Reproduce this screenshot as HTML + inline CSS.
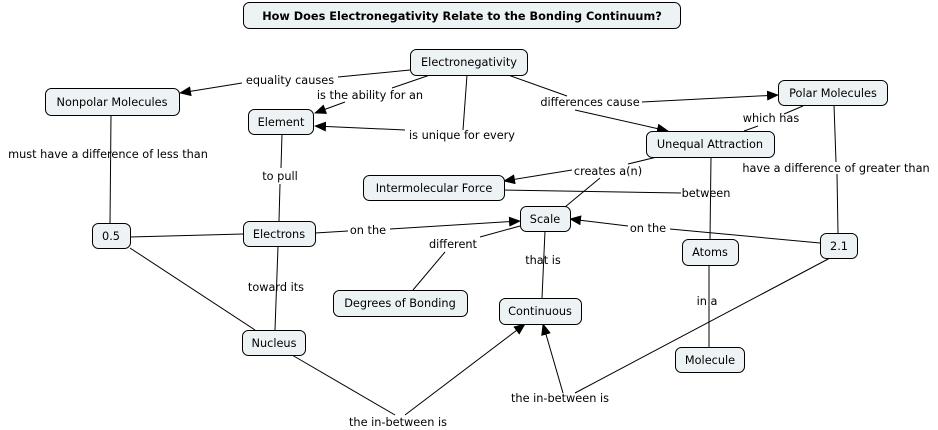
<!DOCTYPE html>
<html><head><meta charset="utf-8"><style>
html,body{margin:0;padding:0;background:#fff;}
svg{display:block;}
text{font-family:"DejaVu Sans","Liberation Sans",sans-serif;font-size:11.3px;fill:#000;}
.n{fill:#edf3f5;stroke:#000;stroke-width:1;}
.l{stroke:#000;stroke-width:1;fill:none;}
</style></head><body>
<svg width="938" height="430" viewBox="0 0 938 430" xmlns="http://www.w3.org/2000/svg">
<defs><marker id="a" markerWidth="12" markerHeight="10" refX="11" refY="5" orient="auto" markerUnits="userSpaceOnUse"><path d="M0,0 L12,5 L0,10 z" fill="#000"/></marker></defs>
<g class="l">
<line x1="410" y1="70" x2="338" y2="77"/><line x1="242" y1="83" x2="180" y2="93" marker-end="url(#a)"/>
<line x1="430" y1="75" x2="392" y2="88"/><line x1="345" y1="102" x2="315" y2="113" marker-end="url(#a)"/>
<line x1="467" y1="75" x2="463" y2="130"/><line x1="405" y1="130" x2="315" y2="126" marker-end="url(#a)"/>
<line x1="508" y1="75" x2="567" y2="96"/><line x1="642" y1="102" x2="778" y2="95" marker-end="url(#a)"/><line x1="575" y1="110" x2="668" y2="131" marker-end="url(#a)"/>
<line x1="803" y1="106" x2="784" y2="114"/><line x1="758" y1="126" x2="744" y2="131"/>
<line x1="834" y1="105" x2="836" y2="162"/><line x1="837" y1="174" x2="838" y2="233"/>
<line x1="111" y1="115" x2="110" y2="225"/>
<line x1="282" y1="134" x2="281" y2="168"/><line x1="280" y1="184" x2="279" y2="221"/>
<line x1="657" y1="157" x2="628" y2="164"/><line x1="572" y1="170" x2="504" y2="181" marker-end="url(#a)"/>
<line x1="600" y1="178" x2="565" y2="207"/>
<line x1="504" y1="190" x2="681" y2="193"/><line x1="711" y1="157" x2="710" y2="239"/>
<line x1="315" y1="233" x2="348" y2="231"/><line x1="390" y1="229" x2="520" y2="221" marker-end="url(#a)"/>
<line x1="130" y1="237" x2="243" y2="234"/>
<line x1="820" y1="243" x2="670" y2="229"/><line x1="628" y1="226" x2="570" y2="219" marker-end="url(#a)"/>
<line x1="413" y1="290" x2="445" y2="252"/><line x1="480" y1="237" x2="520" y2="226"/>
<line x1="545" y1="231" x2="542" y2="298"/>
<line x1="709" y1="265" x2="709" y2="347"/>
<line x1="278" y1="246" x2="275" y2="330"/>
<line x1="130" y1="248" x2="255" y2="330"/>
<line x1="292" y1="355" x2="395" y2="415"/><line x1="405" y1="415" x2="525" y2="324" marker-end="url(#a)"/>
<line x1="830" y1="258" x2="575" y2="393"/><line x1="563" y1="393" x2="543" y2="324" marker-end="url(#a)"/>
</g>
<g>
<rect class="n" x="243.5" y="2.5" width="437" height="26" rx="6"/>
<rect class="n" x="410.5" y="49.5" width="117" height="26" rx="6"/>
<rect class="n" x="45.5" y="88.5" width="134" height="27" rx="6"/>
<rect class="n" x="248.5" y="109.5" width="65" height="25" rx="6"/>
<rect class="n" x="778.5" y="80.5" width="109" height="25" rx="6"/>
<rect class="n" x="646.5" y="131.5" width="128" height="26" rx="6"/>
<rect class="n" x="363.5" y="175.5" width="141" height="25" rx="6"/>
<rect class="n" x="520.5" y="206.5" width="50" height="25" rx="6"/>
<rect class="n" x="92.5" y="223.5" width="38" height="25" rx="6"/>
<rect class="n" x="243.5" y="221.5" width="72" height="25" rx="6"/>
<rect class="n" x="820.5" y="233.5" width="37" height="25" rx="6"/>
<rect class="n" x="682.5" y="239.5" width="56" height="26" rx="6"/>
<rect class="n" x="333.5" y="290.5" width="134" height="26" rx="6"/>
<rect class="n" x="499.5" y="298.5" width="82" height="26" rx="6"/>
<rect class="n" x="242.5" y="330.5" width="63" height="25" rx="6"/>
<rect class="n" x="675.5" y="347.5" width="69" height="25" rx="6"/>
</g>
<g text-anchor="middle">
<text x="462" y="20" style="font-weight:bold">How Does Electronegativity Relate to the Bonding Continuum?</text>
<text x="469" y="66">Electronegativity</text>
<text x="112" y="106">Nonpolar Molecules</text>
<text x="281" y="126">Element</text>
<text x="833" y="97">Polar Molecules</text>
<text x="710" y="148">Unequal Attraction</text>
<text x="434" y="192">Intermolecular Force</text>
<text x="545" y="223">Scale</text>
<text x="111" y="240">0.5</text>
<text x="279" y="238">Electrons</text>
<text x="839" y="250">2.1</text>
<text x="710" y="256">Atoms</text>
<text x="400" y="307">Degrees of Bonding</text>
<text x="540" y="315">Continuous</text>
<text x="274" y="347">Nucleus</text>
<text x="710" y="364">Molecule</text>
<text x="290" y="84">equality causes</text>
<text x="370" y="99">is the ability for an</text>
<text x="462" y="139">is unique for every</text>
<text x="590" y="106">differences cause</text>
<text x="771" y="122">which has</text>
<text x="108" y="158">must have a difference of less than</text>
<text x="280" y="180">to pull</text>
<text x="836" y="172">have a difference of greater than</text>
<text x="608" y="175">creates a(n)</text>
<text x="706" y="197">between</text>
<text x="368" y="234">on the</text>
<text x="648" y="232">on the</text>
<text x="453" y="248">different</text>
<text x="543" y="264">that is</text>
<text x="276" y="291">toward its</text>
<text x="707" y="305">in a</text>
<text x="398" y="426">the in-between is</text>
<text x="560" y="402">the in-between is</text>
</g>
</svg>
</body></html>
